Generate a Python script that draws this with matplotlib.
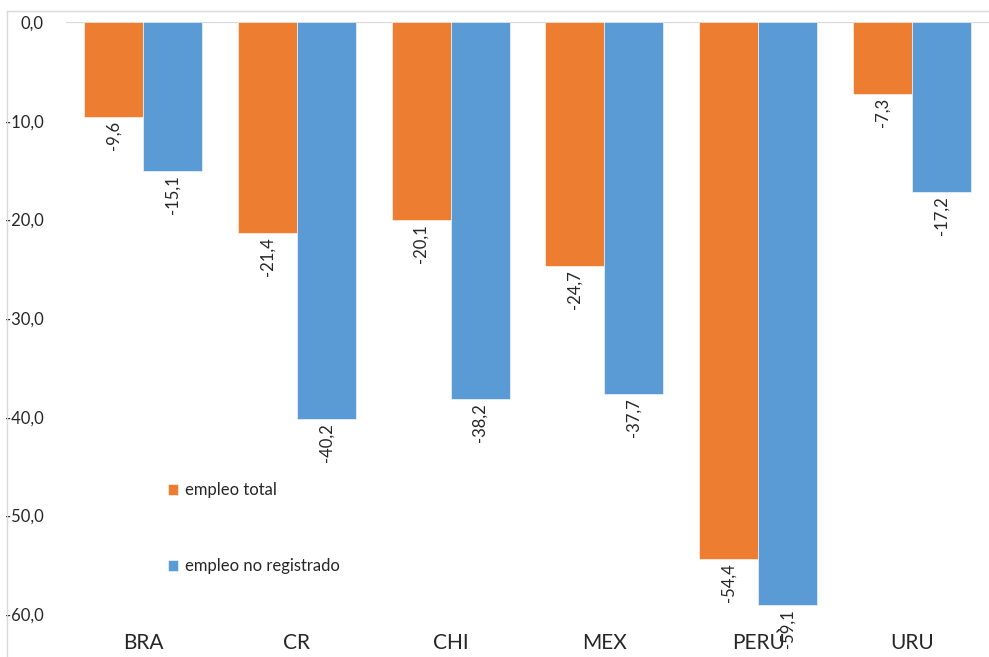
import numpy as np
import matplotlib
matplotlib.use("Agg")
import matplotlib.pyplot as plt
from matplotlib.lines import Line2D

############################################################################################################

countries = ["BRA", "CR", "CHI", "MEX", "PERÚ", "URU"]
empleo_total = [-9.6, -21.4, -20.1, -24.7, -54.4, -7.3]
empleo_no_registrado = [-15.1, -40.2, -38.2, -37.7, -59.1, -17.2]

series_names = ["empleo total", "empleo no registrado"]
series_colors = ["#ED7D31", "#5B9BD5"]
y_ticks = [0, -10, -20, -30, -40, -50, -60]


def fmt(v):
    # comma as decimal separator
    return ("%.1f" % v).replace(".", ",")


############################################################################################################

def plot_chart():
    plt.rcParams['font.family'] = ['Lato', 'DejaVu Sans']
    text_color = "#262626"

    fig = plt.figure(figsize=(9.89, 6.57), dpi=100, facecolor='w')
    ax = fig.add_axes([66 / 989, 1 - 614 / 657, 1 - 66 / 989, (614 - 22) / 657])

    x = np.arange(len(countries))
    width = 0.383

    for i, values in enumerate([empleo_total, empleo_no_registrado]):
        offset = (i - 0.5) * width
        bars = ax.bar(x + offset, values, width, color=series_colors[i], label=series_names[i],
                      edgecolor='#ffffff', linewidth=0.4, zorder=2)
        for rect, v in zip(bars, values):
            ax.annotate(fmt(v), xy=(rect.get_x() + rect.get_width() / 2, v), xytext=(0, -3),
                        textcoords='offset points', ha='center', va='top', rotation=90,
                        fontsize=12, color=text_color, zorder=3)

    ax.axhline(0, color='#d9d9d9', lw=1.6, zorder=1)

    ax.set_xlim(-0.5, len(countries) - 0.5)
    ax.set_ylim(-60, 0)
    ax.set_yticks(y_ticks)
    ax.set_yticklabels([fmt(t) for t in y_ticks])
    ax.set_xticks(x)
    ax.set_xticklabels(countries)
    ax.tick_params(axis='y', length=0, pad=16, labelsize=12, labelcolor=text_color)
    ax.tick_params(axis='x', length=0, pad=14, labelsize=15, labelcolor=text_color)
    for s in ax.spines.values():
        s.set_visible(False)

    ax.legend(loc='upper left', bbox_to_anchor=(160 / 989, 1 - 474 / 657), bbox_transform=fig.transFigure,
              frameon=False, fontsize=12, handlelength=0.6, handleheight=0.6, handletextpad=0.4,
              labelspacing=3.6, labelcolor=text_color, borderpad=0)

    # light chart border
    fig.add_artist(Line2D([7 / 989, 7 / 989], [0, 1 - 11 / 657], transform=fig.transFigure,
                          color='#d9d9d9', lw=1))
    fig.add_artist(Line2D([7 / 989, 1], [1 - 11 / 657, 1 - 11 / 657], transform=fig.transFigure,
                          color='#d9d9d9', lw=1))

    plt.savefig("out.png", dpi=100)
    plt.close(fig)


if __name__ == "__main__":
    plot_chart()
